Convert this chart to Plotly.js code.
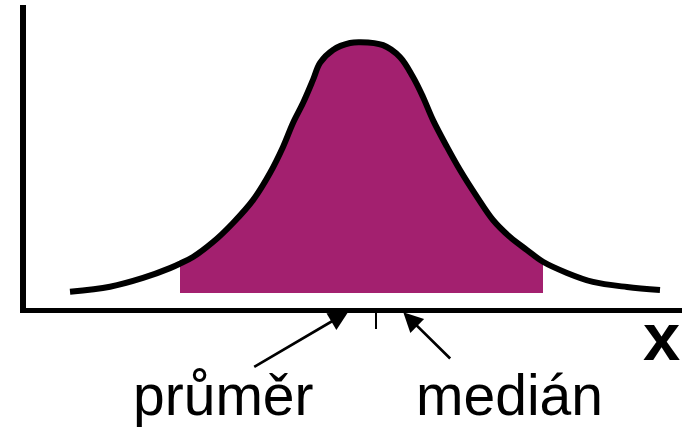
<!DOCTYPE html>
<html>
<head>
<meta charset="utf-8">
<script src="https://cdn.plot.ly/plotly-3.0.1.min.js"></script>
<style>
  html, body { margin: 0; padding: 0; background: #ffffff; }
  #chart { width: 682px; height: 430px; }
</style>
</head>
<body>
<div id="chart"></div>
<script>
// Curve (x in units of the x axis, y relative density)
var curveX = [-3.65, -3.15, -2.7375, -2.40, -2.275, -2.1125, -1.8625, -1.6125, -1.3625, -1.15,
              -0.9875, -0.8625, -0.7375, -0.6125, -0.525, -0.3625, -0.15, -0.025, 0.2625, 0.475,
              0.6375, 0.7625, 0.8875, 1.0625, 1.225, 1.4375, 1.6375, 1.85, 2.0625, 2.2625,
              2.5625, 2.8875, 3.3125, 3.725];
var curveY = [0.061, 0.080, 0.113, 0.150, 0.167, 0.192, 0.248, 0.320, 0.406, 0.508,
              0.606, 0.696, 0.771, 0.858, 0.922, 0.971, 0.997, 1.000, 0.989, 0.944,
              0.869, 0.794, 0.707, 0.606, 0.519, 0.418, 0.331, 0.267, 0.218, 0.174,
              0.132, 0.098, 0.079, 0.068];

// Shaded region
var fillLeft = -2.275;
var fillRight = 2.2625;
var fillBase = 0.0564;

// Marked positions on the x axis
var meanX = -0.171;     // průměr
var medianX = 0.516;    // medián
var markX = 0.171;      // small tick

// Labels
var meanLabel = "průměr";
var medianLabel = "medián";
var axisLabel = "x";

var fillX = [], fillY = [];
for (var i = 0; i < curveX.length; i++) {
  if (curveX[i] >= fillLeft && curveX[i] <= fillRight) {
    fillX.push(curveX[i]);
    fillY.push(curveY[i]);
  }
}

var traces = [
  {
    x: [fillLeft, fillRight], y: [fillBase, fillBase],
    mode: "lines", line: { width: 0, color: "rgba(0,0,0,0)" },
    hoverinfo: "skip", showlegend: false
  },
  {
    x: fillX, y: fillY,
    mode: "lines", fill: "tonexty", fillcolor: "#A3206F",
    line: { width: 0, shape: "spline", smoothing: 1, color: "rgba(0,0,0,0)" },
    hoverinfo: "skip", showlegend: false
  },
  {
    x: curveX, y: curveY,
    mode: "lines",
    line: { width: 6, color: "#000000", shape: "spline", smoothing: 1 },
    hoverinfo: "skip", showlegend: false
  }
];

var font = 'Arial, "Liberation Sans", sans-serif';

var layout = {
  width: 682, height: 430,
  margin: { l: 26, r: 0, t: 5, b: 122, pad: 0 },
  paper_bgcolor: "#ffffff", plot_bgcolor: "#ffffff",
  showlegend: false,
  xaxis: {
    range: [-4.2, 4.0], showgrid: false, zeroline: false,
    showline: true, linecolor: "#000000", linewidth: 5,
    tickvals: [markX], ticks: "outside", ticklen: 16, tickwidth: 2, tickcolor: "#000000",
    showticklabels: false, fixedrange: true
  },
  yaxis: {
    range: [0, 1.14], showgrid: false, zeroline: false,
    showline: true, linecolor: "#000000", linewidth: 6,
    ticks: "", showticklabels: false, fixedrange: true
  },
  annotations: [
    {
      x: meanX, xref: "x", y: -0.0122, yref: "paper",
      ax: -1.366, axref: "x", ay: 56, ayref: "pixel",
      text: "", showarrow: true, arrowhead: 2, arrowsize: 1.45, arrowwidth: 2.7,
      arrowcolor: "#000000", standoff: 0
    },
    {
      x: medianX, xref: "x", y: -0.0142, yref: "paper",
      ax: 1.121, axref: "x", ay: 47.7, ayref: "pixel",
      text: "", showarrow: true, arrowhead: 2, arrowsize: 1.45, arrowwidth: 2.7,
      arrowcolor: "#000000", standoff: 0
    },
    {
      x: -1.73, xref: "x", y: -0.288, yref: "paper",
      xanchor: "center", yanchor: "middle", showarrow: false,
      text: meanLabel, font: { family: font, size: 57, color: "#000000" }
    },
    {
      x: 1.841, xref: "x", y: -0.288, yref: "paper",
      xanchor: "center", yanchor: "middle", showarrow: false,
      text: medianLabel, font: { family: font, size: 57, color: "#000000" }
    },
    {
      x: 3.746, xref: "x", y: -0.095, yref: "paper",
      xanchor: "center", yanchor: "middle", showarrow: false,
      text: "<b>" + axisLabel + "</b>", font: { family: font, size: 67, color: "#000000" }
    }
  ]
};

Plotly.newPlot("chart", traces, layout, { displayModeBar: false, staticPlot: true });
</script>
</body>
</html>
